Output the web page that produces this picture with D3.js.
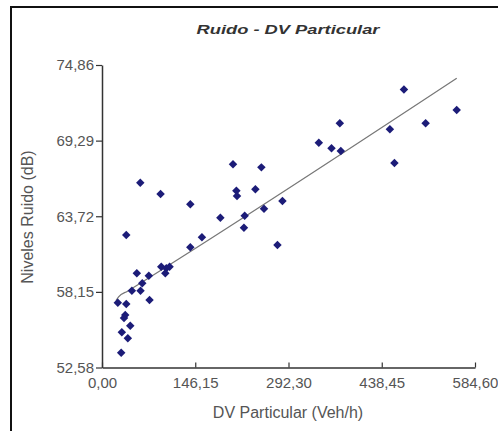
<!DOCTYPE html>
<html>
<head>
<meta charset="utf-8">
<script src="https://cdn.jsdelivr.net/npm/d3@7"></script>
<style>
  body { margin: 0; background: #fff; }
  svg { display: block; }
  text { font-family: "Liberation Sans", Arial, sans-serif; }
</style>
</head>
<body>
<div id="chart"></div>
<script>
// Data
const dvParticular = [60.0, 91.8, 138.4, 185.5, 38.0, 156.6, 138.4, 54.6, 73.4, 92.9,
  100.8, 105.9, 99.2, 63.1, 46.8, 60.4, 74.5, 24.8, 38.0, 36.4,
  44.3, 31.1, 40.5, 30.1, 372.7, 339.8, 359.7, 205.3, 249.8, 210.6,
  211.6, 240.4, 282.8, 253.9, 223.6, 222.5, 275.0, 473.2, 555.9, 507.2,
  451.2, 374.3, 458.3, 34.5];
const ruido = [66.19, 65.36, 64.60, 63.61, 62.34, 62.17, 61.43, 59.52, 59.34, 60.00,
  59.89, 60.00, 59.52, 58.78, 58.24, 58.24, 57.55, 57.35, 57.26, 56.45,
  55.66, 55.17, 54.73, 53.67, 70.57, 69.14, 68.72, 67.55, 67.32, 65.60,
  65.21, 65.70, 64.84, 64.28, 63.76, 62.88, 61.60, 73.05, 71.55, 70.57,
  70.12, 68.53, 67.64, 56.23];
// fitted trend line as drawn
const fitX = [22, 26, 40, 93, 556];
const fitY = [57.5, 57.78, 58.2, 59.76, 73.88];
const xTicks = [0, 146.15, 292.30, 438.45, 584.60];
const yTicks = [52.58, 58.15, 63.72, 69.29, 74.86];

const W = 498, H = 431;
const margin = { left: 102, right: 475, top: 65, bottom: 367.5 };

const locale = d3.formatLocale({ decimal: ",", thousands: ".", grouping: [3], currency: ["", ""] });
const fmt = locale.format(".2f");

const svg = d3.select("#chart").append("svg")
  .attr("width", W)
  .attr("height", H);

// outer frame
svg.append("rect")
  .attr("x", 11).attr("y", 7)
  .attr("width", 520).attr("height", 460)
  .attr("fill", "none")
  .attr("stroke", "#111")
  .attr("stroke-width", 2);

const x = d3.scaleLinear().domain([0, 584.60]).range([margin.left, margin.right]);
const y = d3.scaleLinear().domain([52.58, 74.86]).range([margin.bottom, margin.top]);

// axes
const xAxis = svg.append("g")
  .attr("transform", `translate(0,${margin.bottom})`)
  .call(d3.axisBottom(x).tickValues(xTicks).tickFormat(fmt).tickSizeInner(-5).tickSizeOuter(0).tickPadding(10));

const yAxis = svg.append("g")
  .attr("transform", `translate(${margin.left},0)`)
  .call(d3.axisLeft(y).tickValues(yTicks).tickFormat(fmt).tickSizeInner(6).tickSizeOuter(0).tickPadding(2));

[xAxis, yAxis].forEach(g => {
  g.select(".domain").attr("stroke", "#333").attr("stroke-width", 1.5);
  g.selectAll(".tick line").attr("stroke", "#333").attr("stroke-width", 1.2);
  g.selectAll(".tick text")
    .attr("fill", "#555")
    .style("font-size", "15px")
    .style("font-family", "'Liberation Sans', Arial, sans-serif");
});

// trend line
const fit = fitX.map((d, i) => [d, fitY[i]]);
svg.append("path")
  .datum(fit)
  .attr("fill", "none")
  .attr("stroke", "#777")
  .attr("stroke-width", 1.2)
  .attr("d", d3.line().x(d => x(d[0])).y(d => y(d[1])).curve(d3.curveMonotoneX));

// points (small square diamonds)
const pts = dvParticular.map((d, i) => ({ x: d, y: ruido[i] }));
svg.selectAll(".pt")
  .data(pts)
  .enter()
  .append("path")
  .attr("class", "pt")
  .attr("transform", d => `translate(${x(d.x)},${y(d.y)}) rotate(45)`)
  .attr("d", d3.symbol().type(d3.symbolSquare).size(36))
  .attr("fill", "#1c1c78");

// titles
svg.append("text")
  .attr("x", 288).attr("y", 34)
  .attr("text-anchor", "middle")
  .attr("font-size", 13)
  .attr("font-weight", "bold")
  .attr("font-style", "italic")
  .attr("fill", "#333")
  .attr("textLength", 183)
  .attr("lengthAdjust", "spacingAndGlyphs")
  .text("Ruido - DV Particular");

svg.append("text")
  .attr("x", 288).attr("y", 418)
  .attr("text-anchor", "middle")
  .attr("font-size", 16)
  .attr("fill", "#555")
  .text("DV Particular (Veh/h)");

svg.append("text")
  .attr("transform", "translate(33,217) rotate(-90)")
  .attr("text-anchor", "middle")
  .attr("font-size", 16)
  .attr("fill", "#555")
  .text("Niveles Ruido (dB)");
</script>
</body>
</html>
